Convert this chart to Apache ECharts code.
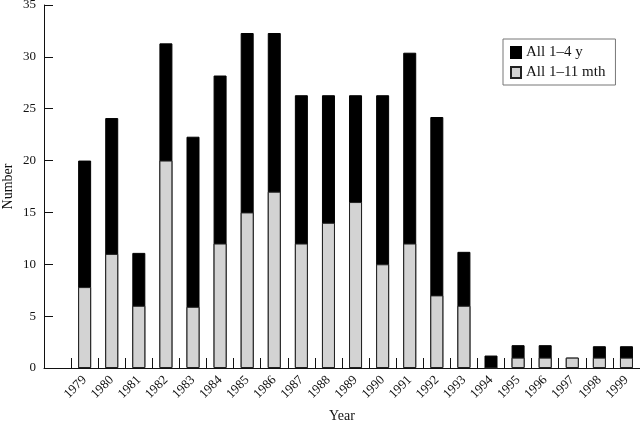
<!DOCTYPE html>
<html>
<head>
<meta charset="utf-8">
<script src="https://cdn.jsdelivr.net/npm/echarts@6/dist/echarts.min.js"></script>
<style>
  html, body { margin: 0; padding: 0; background: #fff; }
  #chart { width: 640px; height: 421px; }
</style>
</head>
<body>
<div id="chart"></div>
<script>
// 年份 (first slot left empty like the original)
const years = ['', '1979', '1980', '1981', '1982', '1983', '1984', '1985', '1986', '1987', '1988',
  '1989', '1990', '1991', '1992', '1993', '1994', '1995', '1996', '1997', '1998', '1999'];

// All 1-4 y
const allOneToFour = [null, 20, 24.1, 11.1, 31.3, 22.3, 28.2, 32.3, 32.3, 26.3, 26.3,
  26.3, 26.3, 30.4, 24.2, 11.2, 1.2, 2.2, 2.2, 1, 2.1, 2.1];

// All 1-11 mth
const allOneToEleven = [null, 7.8, 11, 6, 20, 5.9, 12, 15, 17, 12, 14,
  16, 10, 12, 7, 6, 0, 1, 1, 1, 1, 1];

const yTicks = { min: 0, max: 35, interval: 5 };

const font = '"Liberation Serif", "DejaVu Serif", serif';

const chart = echarts.init(document.getElementById('chart'));
chart.setOption({
  animation: false,
  backgroundColor: '#fff',
  textStyle: { fontFamily: font, color: '#111' },
  grid: { left: 44, right: 0, top: 5, bottom: 53, containLabel: false, outerBoundsMode: 'none' },
  legend: {
    orient: 'vertical',
    left: 503,
    top: 39,
    padding: [6, 10, 5, 7],
    itemGap: 5,
    itemWidth: 10,
    itemHeight: 11,
    icon: 'rect',
    borderColor: '#777',
    borderWidth: 1,
    textStyle: { fontFamily: font, fontSize: 15, color: '#111' },
    data: ['All 1–4 y', 'All 1–11 mth']
  },
  xAxis: {
    type: 'category',
    data: years,
    name: 'Year',
    nameLocation: 'middle',
    nameGap: 41,
    nameMoveOverlap: false,
    nameTextStyle: { fontFamily: font, fontSize: 14, color: '#111' },
    axisLine: { lineStyle: { color: '#111', width: 1 } },
    axisTick: { show: true, inside: true, length: 10, lineStyle: { color: '#111' } },
    axisLabel: { interval: 0, rotate: 45, fontSize: 13, margin: 10, color: '#111' },
    splitLine: { show: false }
  },
  yAxis: {
    type: 'value',
    min: yTicks.min,
    max: yTicks.max,
    interval: yTicks.interval,
    name: 'Number',
    nameLocation: 'middle',
    nameGap: 29,
    nameMoveOverlap: false,
    nameTextStyle: { fontFamily: font, fontSize: 14, color: '#111' },
    axisLine: { show: true, lineStyle: { color: '#111', width: 1 } },
    axisTick: { show: true, inside: true, length: 9, lineStyle: { color: '#111' } },
    axisLabel: { fontSize: 13, margin: 8, color: '#111' },
    splitLine: { show: false }
  },
  series: [
    {
      name: 'All 1–4 y',
      type: 'bar',
      data: allOneToFour,
      barWidth: 13,
      barGap: '-100%',
      itemStyle: { color: '#000', borderColor: '#000', borderWidth: 1 }
    },
    {
      name: 'All 1–11 mth',
      type: 'bar',
      data: allOneToEleven,
      barWidth: 13,
      barGap: '-100%',
      itemStyle: { color: '#d3d3d3', borderColor: '#222', borderWidth: 1 }
    }
  ]
});
</script>
</body>
</html>
